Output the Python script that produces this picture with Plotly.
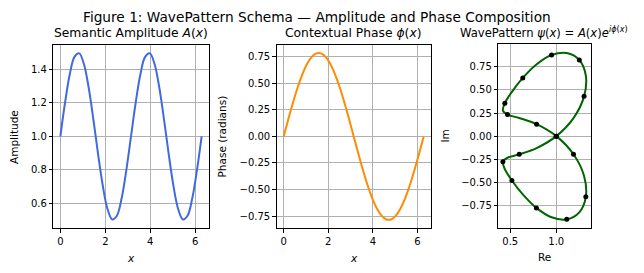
import plotly.graph_objects as go

# ---- data (31 samples over 0..2π) ----
x_vals = [0.0, 0.2094, 0.4189, 0.6283, 0.8378, 1.0472, 1.2566, 1.4661, 1.6755, 1.8850,
          2.0944, 2.3038, 2.5133, 2.7227, 2.9322, 3.1416, 3.3510, 3.5605, 3.7699, 3.9794,
          4.1888, 4.3982, 4.6077, 4.8171, 5.0265, 5.2360, 5.4454, 5.6549, 5.8643, 6.0737, 6.2832]
amplitude = [1.000, 1.203, 1.372, 1.476, 1.497, 1.433, 1.294, 1.104, 0.896, 0.706,
             0.567, 0.503, 0.525, 0.628, 0.797, 1.000, 1.203, 1.372, 1.476, 1.497,
             1.433, 1.294, 1.104, 0.896, 0.706, 0.567, 0.503, 0.525, 0.628, 0.797, 1.000]
phase = [0.000, 0.163, 0.319, 0.462, 0.584, 0.680, 0.747, 0.781, 0.781, 0.747,
         0.680, 0.584, 0.462, 0.319, 0.163, 0.000, -0.163, -0.319, -0.462, -0.584,
         -0.680, -0.747, -0.781, -0.781, -0.747, -0.680, -0.584, -0.462, -0.319, -0.163, 0.000]
psi_re = [1.000, 1.187, 1.302, 1.321, 1.250, 1.114, 0.949, 0.784, 0.636, 0.518,
          0.441, 0.420, 0.470, 0.597, 0.786, 1.000, 1.187, 1.302, 1.321, 1.250,
          1.114, 0.949, 0.784, 0.636, 0.518, 0.441, 0.420, 0.470, 0.597, 0.786, 1.000]
psi_im = [0.000, 0.196, 0.431, 0.657, 0.825, 0.901, 0.879, 0.777, 0.631, 0.480,
          0.357, 0.277, 0.234, 0.197, 0.130, 0.000, -0.196, -0.431, -0.657, -0.825,
          -0.901, -0.879, -0.777, -0.631, -0.480, -0.357, -0.277, -0.234, -0.197, -0.130, 0.000]
marker_step = 2

amp_ticks = [0.6, 0.8, 1.0, 1.2, 1.4]
amp_ticktext = ["0.6", "0.8", "1.0", "1.2", "1.4"]
x_ticks = [0, 2, 4, 6]
x_ticktext = ["0", "2", "4", "6"]
phase_ticks = [-0.75, -0.5, -0.25, 0.0, 0.25, 0.5, 0.75]
phase_ticktext = ["\u22120.75", "\u22120.50", "\u22120.25", "0.00", "0.25", "0.50", "0.75"]
im_ticks = [-0.75, -0.5, -0.25, 0.0, 0.25, 0.5, 0.75]
im_ticktext = ["\u22120.75", "\u22120.50", "\u22120.25", "0.00", "0.25", "0.50", "0.75"]
re_ticks = [0.5, 1.0]
re_ticktext = ["0.5", "1.0"]

FONT = "DejaVu Sans"
W, H = 644, 273

fig = go.Figure()
fig.add_trace(go.Scatter(x=x_vals, y=amplitude, mode="lines", line=dict(color="#4169E1", width=2, shape="spline"),
                         xaxis="x", yaxis="y", showlegend=False))
fig.add_trace(go.Scatter(x=x_vals, y=phase, mode="lines", line=dict(color="#FF8C00", width=2, shape="spline"),
                         xaxis="x2", yaxis="y2", showlegend=False))
fig.add_trace(go.Scatter(x=psi_re, y=psi_im, mode="lines", line=dict(color="#006400", width=2, shape="spline"),
                         xaxis="x3", yaxis="y3", showlegend=False))
fig.add_trace(go.Scatter(x=psi_re[::marker_step], y=psi_im[::marker_step], mode="markers",
                         marker=dict(color="black", size=5),
                         xaxis="x3", yaxis="y3", showlegend=False))


def px(v):
    return v / W


def py(v):
    return 1 - v / H


ydom = [py(228.3), py(44.5)]
common = dict(showline=True, mirror=True, linecolor="black", linewidth=1,
              ticks="outside", ticklen=3.5, tickwidth=1, tickcolor="black",
              showgrid=True, gridcolor="#b0b0b0", gridwidth=0.8, zeroline=False,
              tickfont=dict(family=FONT, size=10, color="black"), automargin=False,
              tickmode="array")

fig.update_layout(
    width=W, height=H, margin=dict(l=0, r=0, t=0, b=0),
    paper_bgcolor="white", plot_bgcolor="white", template="none",
    xaxis=dict(domain=[px(53.3), px(208.7)], range=[-0.314, 6.597], anchor="y",
               tickvals=x_ticks, ticktext=x_ticktext, **common),
    yaxis=dict(domain=ydom, range=[0.45, 1.55], anchor="x",
               tickvals=amp_ticks, ticktext=amp_ticktext, **common),
    xaxis2=dict(domain=[px(276.7), px(430.7)], range=[-0.314, 6.597], anchor="y2",
                tickvals=x_ticks, ticktext=x_ticktext, **common),
    yaxis2=dict(domain=ydom, range=[-0.864, 0.864], anchor="x2",
                tickvals=phase_ticks, ticktext=phase_ticktext, **common),
    xaxis3=dict(domain=[px(498.3), px(590.7)], range=[0.370, 1.374], anchor="y3",
                tickvals=re_ticks, ticktext=re_ticktext, **common),
    yaxis3=dict(domain=[py(228.0), py(44.3)], range=[-0.995, 0.995], anchor="x3",
                tickvals=im_ticks, ticktext=im_ticktext, **common),
)


def ann(text, x, y, size, angle=0):
    fig.add_annotation(text=text, x=px(x), y=py(y), xref="paper", yref="paper",
                       xanchor="center", yanchor="middle", showarrow=False, textangle=angle,
                       font=dict(family=FONT, size=size, color="black"))


ann("Figure 1: WavePattern Schema \u2014 Amplitude and Phase Composition", 316.5, 17, 13.7)
ann("Semantic Amplitude <i>A</i>(<i>x</i>)", 130.8, 33, 12.3)
ann("Contextual Phase <i>\u03d5</i>(<i>x</i>)", 353, 33, 12.3)
ann("WavePattern <i>\u03c8</i>(<i>x</i>) = <i>A</i>(<i>x</i>)<i>e</i><sup><i>i\u03d5</i>(<i>x</i>)</sup>", 543.5, 32, 11.6)
ann("Amplitude", 13.5, 137.5, 10.5, -90)
ann("Phase (radians)", 221, 136.5, 10.5, -90)
ann("Im", 444, 136.5, 10.5, -90)
ann("<i>x</i>", 131, 258, 10.5)
ann("<i>x</i>", 353.7, 258, 10.5)
ann("Re", 544.5, 257, 10.5)

fig.write_html("out.html", config={"displayModeBar": False},
               post_script="document.body.style.margin='0';document.body.style.overflow='hidden';")
